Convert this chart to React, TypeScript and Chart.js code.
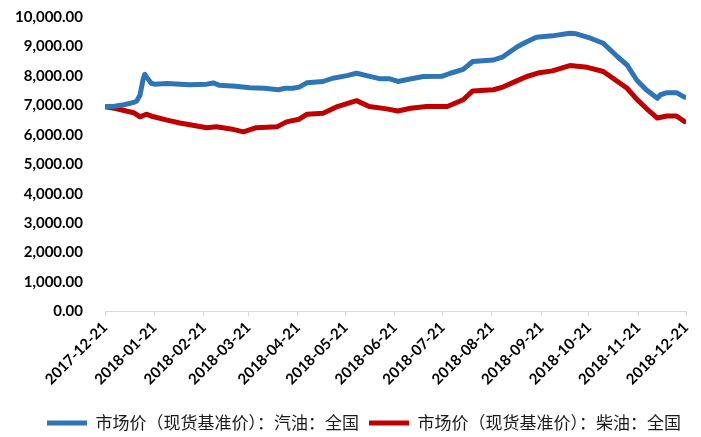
import React, { useEffect, useRef } from "react";
import { Chart, registerables } from "chart.js";

Chart.register(...registerables);

// Day offsets from 2017-12-21 for the month tick marks
const monthOffsets = [0, 31, 62, 90, 121, 151, 182, 212, 243, 274, 304, 335, 365];
const monthLabels = [
  "2017-12-21", "2018-01-21", "2018-02-21", "2018-03-21", "2018-04-21", "2018-05-21",
  "2018-06-21", "2018-07-21", "2018-08-21", "2018-09-21", "2018-10-21", "2018-11-21", "2018-12-21",
];

const seriesNames = ["市场价（现货基准价）：汽油：全国", "市场价（现货基准价）：柴油：全国"];

// 汽油 (gasoline) readings: day offset and price
const gasolineDays = [0, 6, 12, 18, 20, 22, 24, 25, 27, 29, 31, 39, 53, 64, 68, 72, 82, 91, 100, 109, 113, 118, 122, 127, 137, 143, 152, 158, 165, 173, 179, 184, 190, 200, 212, 217, 225, 231, 244, 250, 259, 265, 271, 281, 292, 296, 305, 313, 322, 328, 334, 340, 347, 349, 353, 359, 364];
const gasolineValues = [6950, 6970, 7020, 7100, 7150, 7350, 7900, 8050, 7900, 7750, 7720, 7740, 7700, 7720, 7760, 7680, 7650, 7600, 7580, 7530, 7580, 7580, 7620, 7770, 7810, 7920, 8010, 8090, 8000, 7900, 7900, 7810, 7880, 7980, 7990, 8090, 8220, 8490, 8540, 8650, 8990, 9160, 9310, 9360, 9450, 9430, 9280, 9110, 8650, 8370, 7860, 7530, 7240, 7360, 7430, 7430, 7280];

// 柴油 (diesel) readings: day offset and price
const dieselDays = [0, 6, 18, 22, 26, 30, 39, 47, 64, 70, 79, 87, 95, 108, 114, 122, 127, 137, 146, 158, 166, 177, 184, 192, 202, 215, 225, 231, 244, 250, 259, 265, 273, 281, 292, 303, 313, 322, 328, 334, 340, 347, 353, 359, 364];
const dieselValues = [6950, 6900, 6750, 6610, 6700, 6620, 6500, 6400, 6240, 6270, 6200, 6100, 6240, 6270, 6440, 6530, 6700, 6730, 6960, 7160, 6960, 6880, 6810, 6900, 6960, 6960, 7190, 7490, 7530, 7620, 7840, 7980, 8110, 8170, 8350, 8290, 8150, 7810, 7580, 7210, 6900, 6570, 6640, 6640, 6450];

const BLUE = "#2E75B6";
const RED = "#C00000";
const FONT = "Lato, 'Liberation Sans', sans-serif";
const LEGEND_SHIFT = 17;

export default function App() {
  const canvasRef = useRef<HTMLCanvasElement | null>(null);

  useEffect(() => {
    document.body.style.margin = "0";
    const canvas = canvasRef.current;
    if (!canvas) return;
    const toPoints = (xs: number[], ys: number[]) => xs.map((x, i) => ({ x, y: ys[i] }));
    const lineStyle = {
      borderWidth: 5,
      pointRadius: 0,
      pointStyle: "line" as const,
      tension: 0,
      borderCapStyle: "round" as const,
      borderJoinStyle: "round" as const,
    };
    const shiftLegend = {
      id: "shiftLegend",
      afterLayout(chart: any) {
        if (chart.legend) {
          chart.legend.left += LEGEND_SHIFT;
          chart.legend.right += LEGEND_SHIFT;
        }
      },
    };
    const chart = new Chart(canvas, {
      type: "line",
      data: {
        datasets: [
          {
            label: seriesNames[0],
            data: toPoints(gasolineDays, gasolineValues),
            borderColor: BLUE,
            backgroundColor: BLUE,
            ...lineStyle,
          },
          {
            label: seriesNames[1],
            data: toPoints(dieselDays, dieselValues),
            borderColor: RED,
            backgroundColor: RED,
            ...lineStyle,
          },
        ],
      },
      options: {
        animation: false,
        responsive: false,
        maintainAspectRatio: false,
        layout: { padding: { left: 8, right: 15, top: 17, bottom: -4.5 } },
        plugins: {
          tooltip: { enabled: false },
          legend: {
            position: "bottom",
            labels: {
              usePointStyle: true,
              pointStyle: "line",
              pointStyleWidth: 40,
              boxWidth: 40,
              padding: 10,
              color: "#1a1a1a",
              font: { family: "'Noto Sans CJK SC', sans-serif", size: 17 },
            },
          },
        },
        scales: {
          x: {
            type: "linear",
            min: 0,
            max: 365,
            afterBuildTicks: (scale: any) => {
              scale.ticks = monthOffsets.map((v) => ({ value: v }));
            },
            afterFit: (scale: any) => {
              scale.height = 93;
            },
            ticks: {
              autoSkip: false,
              minRotation: 45,
              maxRotation: 45,
              padding: 2,
              color: "#000",
              font: { family: FONT, size: 15, weight: "bold" },
              callback: (value: any) => {
                const idx = monthOffsets.indexOf(Number(value));
                return idx >= 0 ? monthLabels[idx] : "";
              },
            },
            grid: {
              display: true,
              drawOnChartArea: false,
              drawTicks: true,
              tickLength: 5,
              color: "#d9d9d9",
            },
            border: { display: true, color: "#d9d9d9", width: 1 },
          },
          y: {
            min: 0,
            max: 10000,
            afterFit: (scale: any) => {
              scale.width = 97;
            },
            ticks: {
              stepSize: 1000,
              padding: 3,
              color: "#000",
              font: { family: FONT, size: 15, weight: "bold" },
              callback: (value: any) =>
                Number(value).toLocaleString("en-US", { minimumFractionDigits: 2, maximumFractionDigits: 2 }),
            },
            grid: {
              display: true,
              drawOnChartArea: false,
              drawTicks: true,
              tickLength: 19,
              color: "rgba(0,0,0,0)",
            },
            border: { display: false },
          },
        },
      },
      plugins: [shiftLegend],
    });
    return () => chart.destroy();
  }, []);

  return (
    <div style={{ width: 701, height: 437 }}>
      <canvas ref={canvasRef} width={701} height={437} style={{ display: "block" }} />
    </div>
  );
}
